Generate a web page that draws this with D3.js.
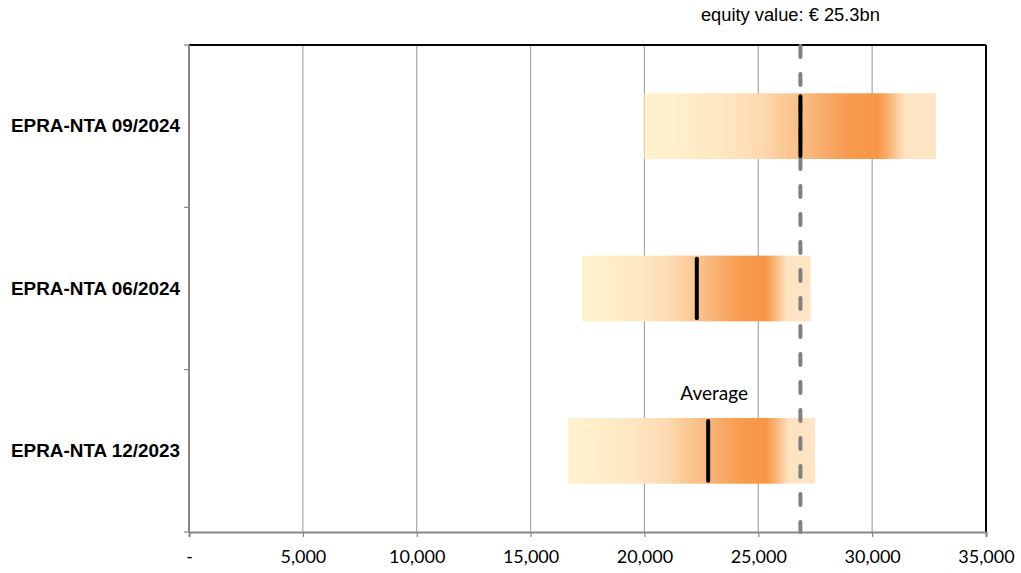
<!DOCTYPE html>
<html>
<head>
<meta charset="utf-8">
<script src="https://cdn.jsdelivr.net/npm/d3@7"></script>
<style>
  html, body { margin: 0; padding: 0; background: #fff; }
  svg { display: block; }
</style>
</head>
<body>
<svg id="chart" width="1021" height="573"></svg>
<script>
// Valuation ranges per reporting date (EUR m)
const categories = ["EPRA-NTA 09/2024", "EPRA-NTA 06/2024", "EPRA-NTA 12/2023"];
const rangeLow   = [20000, 17250, 16650];
const rangeHigh  = [32800, 27300, 27500];
const averages   = [26850, 22300, 22800];
const equityLine = 26850;
const equityLabel = "equity value: € 25.3bn";
const xTicks = [0, 5000, 10000, 15000, 20000, 25000, 30000, 35000];

const W = 1021, H = 573;
const margin = { top: 45, right: 35, bottom: 41, left: 189 };
const svg = d3.select("#chart");

const x = d3.scaleLinear().domain([0, 35000]).range([margin.left, W - margin.right]);
const y = d3.scaleBand().domain(categories).range([margin.top, H - margin.bottom]).paddingInner(0).paddingOuter(0);

// Horizontal gradient shared by all range bars
const grad = svg.append("defs").append("linearGradient")
  .attr("id", "rangeFill").attr("x1", "0%").attr("x2", "100%").attr("y1", "0%").attr("y2", "0%");
[
  [0.00, "#FFF2CC"], [0.10, "#FFEFCA"], [0.28, "#FEE5C1"], [0.40, "#FDD9B0"],
  [0.47, "#FBCB98"], [0.54, "#F9BD84"], [0.62, "#F8AA68"], [0.70, "#F79B4E"],
  [0.80, "#F79646"], [0.835, "#F9AE6E"], [0.87, "#FCD0A0"], [0.895, "#FEE3C2"],
  [1.00, "#FEE5C4"]
].forEach(([o, c]) => grad.append("stop").attr("offset", o).attr("stop-color", c));

// Vertical gridlines
svg.append("g").selectAll("line")
  .data(xTicks.filter(d => d > 0 && d < 35000))
  .join("line")
  .attr("x1", d => x(d)).attr("x2", d => x(d))
  .attr("y1", margin.top).attr("y2", H - margin.bottom)
  .attr("stroke", "#A6A6A6").attr("stroke-width", 1.2);

// Top and right frame
svg.append("line").attr("x1", margin.left).attr("x2", x(35000))
  .attr("y1", margin.top).attr("y2", margin.top)
  .attr("stroke", "#000").attr("stroke-width", 2);
svg.append("line").attr("x1", x(35000)).attr("x2", x(35000))
  .attr("y1", margin.top).attr("y2", H - margin.bottom)
  .attr("stroke", "#000").attr("stroke-width", 2);

// Range bars
const rows = categories.map((c, i) => ({ c, lo: rangeLow[i], hi: rangeHigh[i], avg: averages[i] }));
const barH = y.bandwidth() * 0.405;
const barY = d => y(d.c) + (y.bandwidth() - barH) / 2;

svg.append("g").selectAll("rect")
  .data(rows).join("rect")
  .attr("x", d => x(d.lo)).attr("width", d => x(d.hi) - x(d.lo))
  .attr("y", barY).attr("height", barH)
  .attr("fill", "url(#rangeFill)");

// Equity value reference line
svg.append("line")
  .attr("x1", x(equityLine)).attr("x2", x(equityLine))
  .attr("y1", margin.top + 1).attr("y2", H - margin.bottom)
  .attr("stroke", "#808080").attr("stroke-width", 4)
  .attr("stroke-linecap", "round").attr("stroke-dasharray", "11,17");

// Average markers
svg.append("g").selectAll("line")
  .data(rows).join("line")
  .attr("x1", d => x(d.avg)).attr("x2", d => x(d.avg))
  .attr("y1", d => barY(d) + 3).attr("y2", d => barY(d) + barH - 3)
  .attr("stroke", "#000").attr("stroke-width", 4).attr("stroke-linecap", "round");

// Left axis
const yAxis = svg.append("g");
yAxis.append("line").attr("x1", margin.left).attr("x2", margin.left)
  .attr("y1", margin.top).attr("y2", H - margin.bottom)
  .attr("stroke", "#878787").attr("stroke-width", 2);
const bounds = categories.map(c => y(c)).concat([H - margin.bottom]);
yAxis.selectAll("line.tick").data(bounds).join("line").attr("class", "tick")
  .attr("x1", margin.left - 5).attr("x2", margin.left)
  .attr("y1", d => d).attr("y2", d => d)
  .attr("stroke", "#878787").attr("stroke-width", 1.2);
yAxis.selectAll("text").data(categories).join("text")
  .attr("x", 180).attr("y", d => y(d) + y.bandwidth() / 2 + 1)
  .attr("text-anchor", "end").attr("dominant-baseline", "middle")
  .attr("font-family", "'Liberation Sans', Arial, sans-serif")
  .attr("font-weight", "bold").attr("font-size", 18.9)
  .attr("fill", "#000").text(d => d);

// Bottom axis
const xAxis = svg.append("g").attr("transform", `translate(0,${H - margin.bottom})`)
  .call(d3.axisBottom(x).tickValues(xTicks).tickSize(5).tickPadding(13)
    .tickFormat(d => d === 0 ? "-" : d3.format(",")(d)));
xAxis.select(".domain").attr("stroke", "#878787").attr("stroke-width", 2);
xAxis.selectAll(".tick line").attr("stroke", "#878787").attr("stroke-width", 1.2);
xAxis.selectAll(".tick text")
  .attr("font-family", "Lato, 'Open Sans', sans-serif").attr("font-size", 18)
  .attr("fill", "#000");

// Annotations
svg.append("text")
  .attr("x", x(equityLine) - 10).attr("y", 21)
  .attr("text-anchor", "middle")
  .attr("font-family", "'Liberation Sans', Arial, sans-serif").attr("font-size", 18.3)
  .attr("fill", "#000").text(equityLabel);

svg.append("text")
  .attr("x", x(averages[2]) + 6).attr("y", 400)
  .attr("text-anchor", "middle")
  .attr("font-family", "Lato, 'Open Sans', sans-serif").attr("font-size", 19)
  .attr("fill", "#000").text("Average");
</script>
</body>
</html>
